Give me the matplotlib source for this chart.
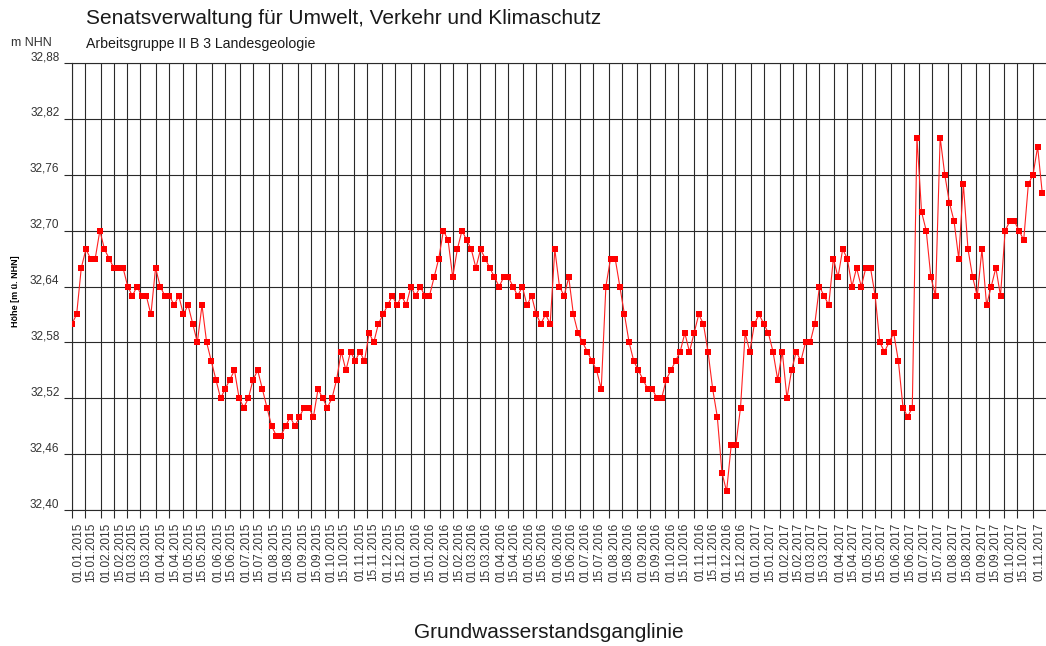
import matplotlib
matplotlib.use('Agg')
import matplotlib.pyplot as plt
import pandas as pd

plt.rcParams['font.family'] = ['Liberation Sans', 'DejaVu Sans']

start_date = '2015-01-01'
step_days = 5
levels = [
    32.60, 32.61, 32.66, 32.68, 32.67, 32.67, 32.70, 32.68, 32.67, 32.66,
    32.66, 32.66, 32.64, 32.63, 32.64, 32.63, 32.63, 32.61, 32.66, 32.64,
    32.63, 32.63, 32.62, 32.63, 32.61, 32.62, 32.60, 32.58, 32.62, 32.58,
    32.56, 32.54, 32.52, 32.53, 32.54, 32.55, 32.52, 32.51, 32.52, 32.54,
    32.55, 32.53, 32.51, 32.49, 32.48, 32.48, 32.49, 32.50, 32.49, 32.50,
    32.51, 32.51, 32.50, 32.53, 32.52, 32.51, 32.52, 32.54, 32.57, 32.55,
    32.57, 32.56, 32.57, 32.56, 32.59, 32.58, 32.60, 32.61, 32.62, 32.63,
    32.62, 32.63, 32.62, 32.64, 32.63, 32.64, 32.63, 32.63, 32.65, 32.67,
    32.70, 32.69, 32.65, 32.68, 32.70, 32.69, 32.68, 32.66, 32.68, 32.67,
    32.66, 32.65, 32.64, 32.65, 32.65, 32.64, 32.63, 32.64, 32.62, 32.63,
    32.61, 32.60, 32.61, 32.60, 32.68, 32.64, 32.63, 32.65, 32.61, 32.59,
    32.58, 32.57, 32.56, 32.55, 32.53, 32.64, 32.67, 32.67, 32.64, 32.61,
    32.58, 32.56, 32.55, 32.54, 32.53, 32.53, 32.52, 32.52, 32.54, 32.55,
    32.56, 32.57, 32.59, 32.57, 32.59, 32.61, 32.60, 32.57, 32.53, 32.50,
    32.44, 32.42, 32.47, 32.47, 32.51, 32.59, 32.57, 32.60, 32.61, 32.60,
    32.59, 32.57, 32.54, 32.57, 32.52, 32.55, 32.57, 32.56, 32.58, 32.58,
    32.60, 32.64, 32.63, 32.62, 32.67, 32.65, 32.68, 32.67, 32.64, 32.66,
    32.64, 32.66, 32.66, 32.63, 32.58, 32.57, 32.58, 32.59, 32.56, 32.51,
    32.50, 32.51, 32.80, 32.72, 32.70, 32.65, 32.63, 32.80, 32.76, 32.73,
    32.71, 32.67, 32.75, 32.68, 32.65, 32.63, 32.68, 32.62, 32.64, 32.66,
    32.63, 32.70, 32.71, 32.71, 32.70, 32.69, 32.75, 32.76, 32.79, 32.74,
]
dates = pd.date_range(start_date, periods=len(levels), freq=f'{step_days}D')

y_ticks = [32.40, 32.46, 32.52, 32.58, 32.64, 32.70, 32.76, 32.82, 32.88]
x_ticks = pd.date_range('2015-01-01', '2017-11-01', freq='SMS')
x_end = pd.Timestamp('2017-11-15')

fig = plt.figure(figsize=(10.46, 6.46), dpi=100)
ax = fig.add_axes([72/1046, 1 - 510/646, 1 - 72/1046, (510 - 63)/646])

ax.plot(dates, levels, color='#ff2020', lw=0.8, marker='s', markersize=4.0,
        markerfacecolor='red', markeredgewidth=0, zorder=3)

ax.set_xlim(pd.Timestamp('2015-01-01'), x_end)
ax.set_ylim(32.40, 32.88)

ax.set_yticks(y_ticks)
ax.set_yticklabels([f'{v:.2f}'.replace('.', ',') for v in y_ticks])
for lab in ax.get_yticklabels():
    lab.set_verticalalignment('bottom')

ax.set_xticks(x_ticks)
ax.set_xticklabels([d.strftime('%d.%m.%Y') for d in x_ticks], rotation=90,
                   ha='left')

ax.grid(True, color='#2a2a2a', lw=0.8)
ax.set_axisbelow(True)
ax.tick_params(axis='both', length=6, width=0.8, color='#2a2a2a',
               labelsize=8.5, labelcolor='#333333')
ax.tick_params(axis='x', pad=3)
ax.tick_params(axis='y', pad=3)

ax.spines['right'].set_visible(False)
for s in ['left', 'bottom', 'top']:
    ax.spines[s].set_color('#2a2a2a')
    ax.spines[s].set_linewidth(0.8)

fig.text(86/1046, 1 - 18/646, 'Senatsverwaltung für Umwelt, Verkehr und Klimaschutz',
         fontsize=15, color='#1a1a1a', ha='left', va='center')
fig.text(86/1046, 1 - 44/646, 'Arbeitsgruppe II B 3 Landesgeologie',
         fontsize=10.2, color='#1a1a1a', ha='left', va='center')
fig.text(52/1046, 1 - 43/646, 'm NHN', fontsize=9, color='#333333',
         ha='right', va='center')
fig.text(15/1046, 1 - 291/646, 'Höhe [m ü. NHN]', fontsize=6.5,
         fontweight='bold', rotation=90, ha='center', va='center')
fig.text(549/1046, 1 - 633/646, 'Grundwasserstandsganglinie', fontsize=15,
         color='#1a1a1a', ha='center', va='center')

fig.savefig('out.png', dpi=100)
